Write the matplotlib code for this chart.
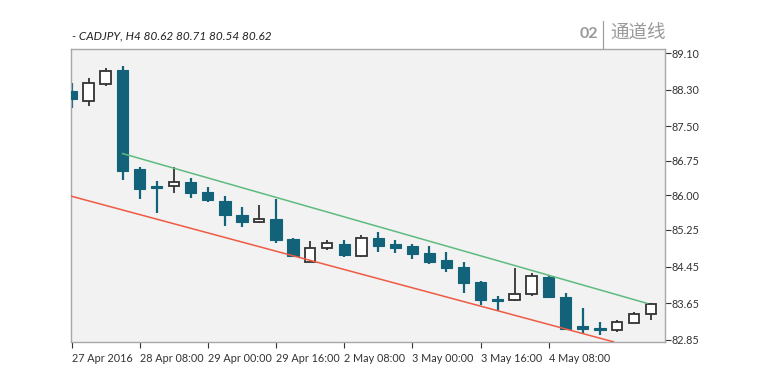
import matplotlib
matplotlib.use("Agg")
import matplotlib.pyplot as plt
import numpy as np

# H4 candles, CADJPY
opens = [88.28, 88.06, 88.42, 88.73, 86.57, 86.18, 86.21, 86.30, 86.07, 85.88,
         85.57, 85.42, 85.48, 85.04, 84.55, 84.86, 84.94, 84.68, 85.08, 84.93,
         84.90, 84.74, 84.59, 84.43, 84.12, 83.73, 83.72, 83.85, 84.23, 83.78,
         83.15, 83.09, 83.07, 83.21, 83.42]
highs = [88.44, 88.55, 88.77, 88.82, 86.62, 86.31, 86.61, 86.37, 86.19, 85.99,
         85.74, 85.79, 85.91, 85.08, 85.01, 85.03, 85.03, 85.13, 85.20, 85.03,
         84.93, 84.90, 84.77, 84.55, 84.13, 83.81, 84.41, 84.30, 84.24, 83.88,
         83.55, 83.25, 83.29, 83.45, 83.65]
lows = [87.90, 87.95, 88.38, 86.33, 85.92, 85.62, 86.06, 85.95, 85.86, 85.34,
        85.32, 85.39, 84.96, 84.66, 84.55, 84.81, 84.65, 84.66, 84.76, 84.74,
        84.61, 84.50, 84.34, 83.88, 83.61, 83.49, 83.70, 83.81, 83.79, 83.08,
        83.01, 82.96, 83.02, 83.21, 83.29]
closes = [88.09, 88.45, 88.71, 86.52, 86.14, 86.15, 86.30, 86.06, 85.90, 85.57,
          85.41, 85.48, 85.03, 84.68, 84.85, 84.96, 84.70, 85.08, 84.90, 84.85,
          84.72, 84.55, 84.42, 84.10, 83.72, 83.70, 83.85, 84.25, 83.79, 83.10,
          83.10, 83.06, 83.25, 83.41, 83.63]

tick_pos = [0, 4, 8, 12, 16, 20, 24, 28]
tick_labels = ['27 Apr 2016', '28 Apr 08:00', '29 Apr 00:00', '29 Apr 16:00',
               '2 May 08:00', '3 May 00:00', '3 May 16:00', '4 May 08:00']
y_ticks = [82.85, 83.65, 84.45, 85.25, 86.00, 86.75, 87.50, 88.30, 89.10]

# channel lines (candle index, price)
upper_x = [3, 33.75]
upper_y = [86.91, 83.65]
lower_x = [-0.5, 31.8]
lower_y = [86.03, 82.81]

teal = '#12627a'
dark = '#333333'

plt.rcParams['font.family'] = ['Lato', 'DejaVu Sans']

fig = plt.figure(figsize=(7.66, 3.83), dpi=100)
ax = fig.add_axes([0.0927, 0.107, 0.775, 0.765])
ax.set_facecolor('#f2f2f2')

x = np.arange(len(opens))
o = np.array(opens)
c = np.array(closes)
up = c >= o
bottoms = np.minimum(o, c)
heights = np.maximum(np.abs(c - o), 0.045)

ax.vlines(x[~up], np.array(lows)[~up], np.array(highs)[~up], color=teal, lw=1.6, zorder=2)
ax.vlines(x[up], np.array(lows)[up], np.array(highs)[up], color=dark, lw=1.3, zorder=2)
ax.bar(x[~up], heights[~up], bottom=bottoms[~up], width=0.66,
       color=teal, edgecolor=teal, lw=0.8, zorder=3)
ax.bar(x[up], heights[up], bottom=bottoms[up], width=0.62,
       color='white', edgecolor=dark, lw=1.3, zorder=3)

ax.plot(upper_x, upper_y, color='#5dbb7e', lw=1.1, zorder=4)
ax.plot(lower_x, lower_y, color='#ef5a45', lw=1.1, zorder=4)

ax.set_xlim(-0.03, 34.8)
ax.set_ylim(82.806, 89.187)

ax.yaxis.tick_right()
ax.set_yticks(y_ticks)
ax.set_yticklabels(['%.2f' % v for v in y_ticks])
ax.set_xticks(tick_pos)
ax.set_xticklabels(tick_labels, ha='left')
ax.tick_params(axis='both', labelsize=7.8, colors='#333333', length=4, width=0.8)
ax.tick_params(axis='y', pad=1)
ax.tick_params(axis='x', pad=4)
for label in ax.get_xticklabels():
    label.set_x(label.get_position()[0])
for s in ax.spines.values():
    s.set_color('#a8a8a8')
    s.set_linewidth(1.0)

fig.text(0.094, 0.905, '- CADJPY, H4 80.62 80.71 80.54 80.62', fontsize=8.5,
         style='italic', color='#222222', va='center')
fig.text(0.757, 0.912, '02', fontsize=11.5, fontweight='bold', color='#9a9a9a', va='center')
fig.add_artist(plt.Line2D([0.787, 0.787], [0.875, 0.945], color='#a0a0a0', lw=0.9))
fig.text(0.797, 0.912, '通道线', fontsize=13.3, color='#9a9a9a', va='center',
         family=['Noto Sans CJK SC', 'DejaVu Sans'])

plt.savefig('out.png', dpi=100)
